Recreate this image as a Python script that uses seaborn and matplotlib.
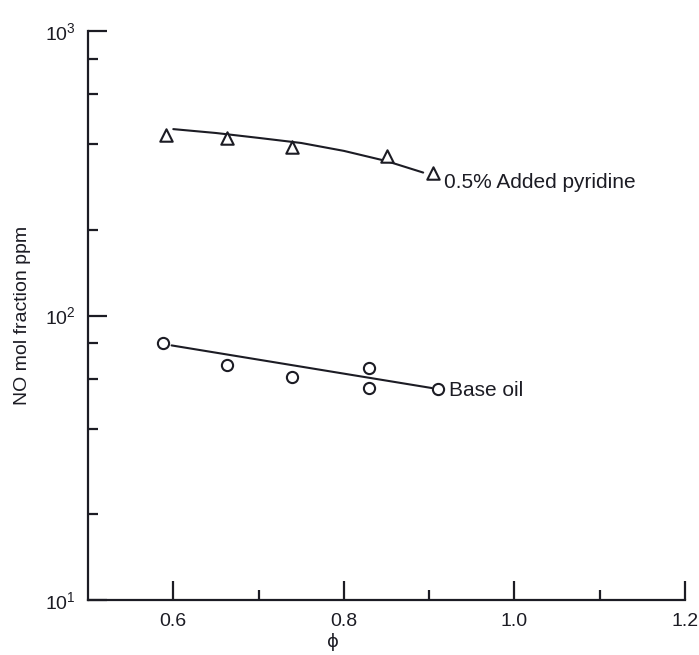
import numpy as np
import pandas as pd
import matplotlib
matplotlib.use("Agg")
import matplotlib.pyplot as plt
import seaborn as sns
from matplotlib.ticker import FixedLocator, NullFormatter, FixedFormatter

# ---- data ----
pyr_phi = [0.591, 0.663, 0.739, 0.850, 0.904]
pyr_no = [431, 421, 391, 364, 317]
pyr_curve_phi = [0.600, 0.650, 0.700, 0.750, 0.800, 0.850, 0.893]
pyr_curve_no = [452, 438, 421, 404, 379, 349, 318]

base_phi = [0.588, 0.663, 0.739, 0.829, 0.829, 0.910]
base_no = [80, 67, 60.8, 65.3, 55.6, 55.2]
base_line_phi = [0.598, 0.903]
base_line_no = [78.5, 55.6]

x_major = [0.6, 0.8, 1.0, 1.2]
x_major_labels = ["0.6", "0.8", "1.0", "1.2"]
x_minor = [0.7, 0.9, 1.1]
y_major = [10, 100, 1000]
y_major_labels = [r"$10^{1}$", r"$10^{2}$", r"$10^{3}$"]
y_minor = [20, 40, 60, 80, 200, 400, 600, 800]

label_pyr = "0.5% Added pyridine"
label_base = "Base oil"
xlabel = "ϕ"
ylabel = "NO mol fraction ppm"

# ---- styling ----
sns.set_theme(style="ticks")
plt.rcParams["font.family"] = ["Liberation Sans", "DejaVu Sans"]
plt.rcParams["mathtext.fontset"] = "custom"
plt.rcParams["mathtext.rm"] = "Liberation Sans"
plt.rcParams["mathtext.default"] = "regular"

ink = "#1c1c24"
fig = plt.figure(figsize=(6.99, 6.55), dpi=100)
ax = fig.add_axes([88 / 699, 1 - 600 / 655, 597 / 699, 569 / 655])

df_pc = pd.DataFrame({"phi": pyr_curve_phi, "no": pyr_curve_no})
df_bl = pd.DataFrame({"phi": base_line_phi, "no": base_line_no})
df_p = pd.DataFrame({"phi": pyr_phi, "no": pyr_no})
df_b = pd.DataFrame({"phi": base_phi, "no": base_no})

sns.lineplot(data=df_pc, x="phi", y="no", ax=ax, color=ink, lw=1.5, sort=True)
sns.lineplot(data=df_bl, x="phi", y="no", ax=ax, color=ink, lw=1.5)
sns.scatterplot(data=df_p, x="phi", y="no", ax=ax, marker="^", s=80,
                facecolor="white", edgecolor=ink, linewidth=1.5, zorder=3)
sns.scatterplot(data=df_b, x="phi", y="no", ax=ax, marker="o", s=65,
                facecolor="white", edgecolor=ink, linewidth=1.5, zorder=3)

ax.set_yscale("log")
ax.set_xlim(0.5, 1.2)
ax.set_ylim(10, 1000)

ax.xaxis.set_major_locator(FixedLocator(x_major))
ax.xaxis.set_major_formatter(FixedFormatter(x_major_labels))
ax.xaxis.set_minor_locator(FixedLocator(x_minor))
ax.xaxis.set_minor_formatter(NullFormatter())
ax.yaxis.set_major_locator(FixedLocator(y_major))
ax.yaxis.set_major_formatter(FixedFormatter(y_major_labels))
ax.yaxis.set_minor_locator(FixedLocator(y_minor))
ax.yaxis.set_minor_formatter(NullFormatter())

ax.tick_params(axis="both", which="major", direction="in", length=14, width=1.6,
               color=ink, labelcolor=ink, labelsize=14, pad=9)
ax.tick_params(axis="both", which="minor", direction="in", length=7, width=1.6, color=ink)

sns.despine(ax=ax)
for s in ["left", "bottom"]:
    ax.spines[s].set_linewidth(1.6)
    ax.spines[s].set_color(ink)

ax.set_xlabel(xlabel, fontsize=13, color=ink, family=["DejaVu Sans"])
ax.xaxis.set_label_coords(0.41, -0.058)
ax.set_ylabel(ylabel, fontsize=14, color=ink)
ax.yaxis.set_label_coords(-0.096, 0.5)

ax.text(0.917, 294, label_pyr, fontsize=15, color=ink, va="center", ha="left")
ax.text(0.923, 54.5, label_base, fontsize=15, color=ink, va="center", ha="left")

fig.savefig("out.png", dpi=100, facecolor="white")
